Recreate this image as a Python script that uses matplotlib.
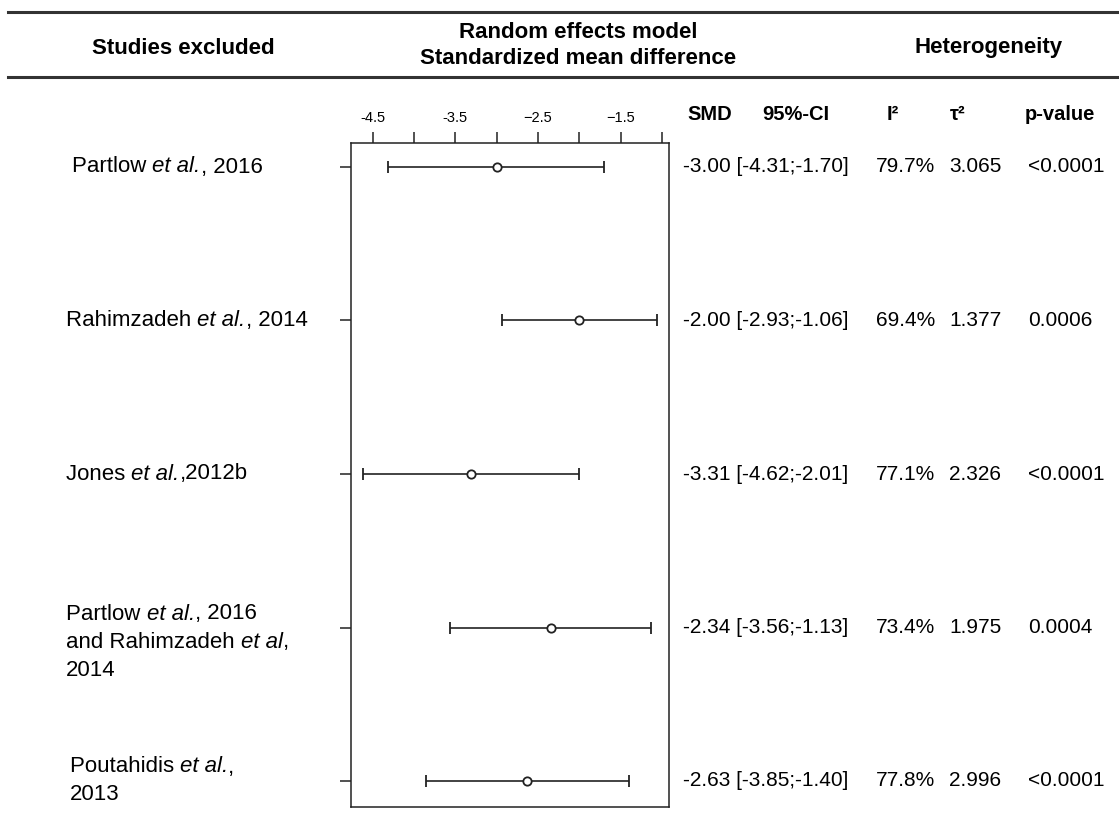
import matplotlib
matplotlib.use("Agg")
import matplotlib.pyplot as plt
from matplotlib.lines import Line2D

plt.rcParams['font.family'] = ['Liberation Sans', 'DejaVu Sans']

# data; each label line is a list of (text, italic) pieces
studies = [
    [[("Partlow ", False), ("et al.", True), (", 2016", False)]],
    [[("Rahimzadeh ", False), ("et al.", True), (", 2014", False)]],
    [[("Jones ", False), ("et al.", True), (",2012b", False)]],
    [[("Partlow ", False), ("et al.", True), (", 2016", False)],
     [("and Rahimzadeh ", False), ("et al", True), (",", False)],
     [("2014", False)]],
    [[("Poutahidis ", False), ("et al.", True), (",", False)],
     [("2013", False)]],
]
smd = [-3.00, -2.00, -3.31, -2.34, -2.63]
ci_low = [-4.31, -2.93, -4.62, -3.56, -3.85]
ci_high = [-1.70, -1.06, -2.01, -1.13, -1.40]
i2 = ["79.7%", "69.4%", "77.1%", "73.4%", "77.8%"]
tau2 = [3.065, 1.377, 2.326, 1.975, 2.996]
pvals = ["<0.0001", "0.0006", "<0.0001", "0.0004", "<0.0001"]
major_ticks = [-4.5, -3.5, -2.5, -1.5]
major_labels = ["-4.5", "-3.5", "\u22122.5", "\u22121.5"]
minor_ticks = [-4.0, -3.0, -2.0, -1.0]

W, H = 1119, 824
fig = plt.figure(figsize=(W / 100, H / 100), dpi=100)
renderer = fig.canvas.get_renderer()

def fx(x):
    return x / W

def fy(y):
    return 1 - y / H

def rich_line(x, y, pieces, size):
    # draw pieces one after another, switching between upright and italic
    for s, it in pieces:
        t = fig.text(fx(x), fy(y), s, ha='left', va='center', fontsize=size,
                     style='italic' if it else 'normal')
        x = t.get_window_extent(renderer).x1

dark = '#222222'

# header rules
for y in (12, 77):
    fig.add_artist(Line2D([fx(8), 1], [fy(y), fy(y)], color='#333333', lw=2.2))

fig.text(fx(183), fy(49), "Studies excluded", ha='center', va='center',
         fontsize=16, fontweight='bold')
fig.text(fx(578), fy(32), "Random effects model", ha='center', va='center',
         fontsize=16, fontweight='bold')
fig.text(fx(578), fy(59), "Standardized mean difference", ha='center', va='center',
         fontsize=16, fontweight='bold')
fig.text(fx(989), fy(48), "Heterogeneity", ha='center', va='center',
         fontsize=16, fontweight='bold')

# column headers
hdr_y = 114
for x, s in [(687, "SMD"), (762, "95%-CI"), (887, "I\u00b2"), (950, "\u03c4\u00b2"),
             (1025, "p-value")]:
    fig.text(fx(x), fy(hdr_y), s, ha='left', va='center', fontsize=14.5,
             fontweight='bold')

# forest plot
left, right, top, bottom = 351.3, 669, 142.7, 806.7
ax = fig.add_axes([fx(left), fy(bottom), (right - left) / W, (bottom - top) / H])
rows = list(range(len(smd)))
ax.errorbar(smd, rows,
            xerr=[[s - l for s, l in zip(smd, ci_low)],
                  [h - s for s, h in zip(smd, ci_high)]],
            fmt='o', mfc='white', mec=dark, ms=6, mew=1.3,
            ecolor=dark, elinewidth=1.2, capsize=4, capthick=1.2, color=dark)

ax.set_xlim(-4.759, -0.915)
ax.set_ylim(4.167, -0.158)
ax.xaxis.tick_top()
ax.set_xticks(major_ticks)
ax.set_xticklabels(major_labels, fontsize=10.5)
ax.set_xticks(minor_ticks, minor=True)
ax.tick_params(axis='x', which='both', direction='out', length=8, width=1.1,
               color=dark, pad=5)
ax.set_yticks(rows)
ax.set_yticklabels([])
ax.tick_params(axis='y', direction='out', length=8, width=1.1, color=dark)
for sp in ax.spines.values():
    sp.set_color(dark)
    sp.set_linewidth(1.1)

# row labels and statistics
row_px = [167, 320.5, 474, 627.5, 781]
label_x = [72, 66, 66, 66, 70]
label_top = [167, 320.5, 474, 614, 767]
line_gap = 28
for k in rows:
    y = row_px[k]
    for j, pieces in enumerate(studies[k]):
        rich_line(label_x[k], label_top[k] + j * line_gap, pieces, 16)
    fig.text(fx(683), fy(y), f"{smd[k]:.2f} [{ci_low[k]:.2f};{ci_high[k]:.2f}]",
             ha='left', va='center', fontsize=15)
    fig.text(fx(876), fy(y), i2[k], ha='left', va='center', fontsize=15)
    fig.text(fx(949), fy(y), f"{tau2[k]:.3f}", ha='left', va='center', fontsize=15)
    fig.text(fx(1028), fy(y), pvals[k], ha='left', va='center', fontsize=15)

fig.savefig("out.png", dpi=100)
